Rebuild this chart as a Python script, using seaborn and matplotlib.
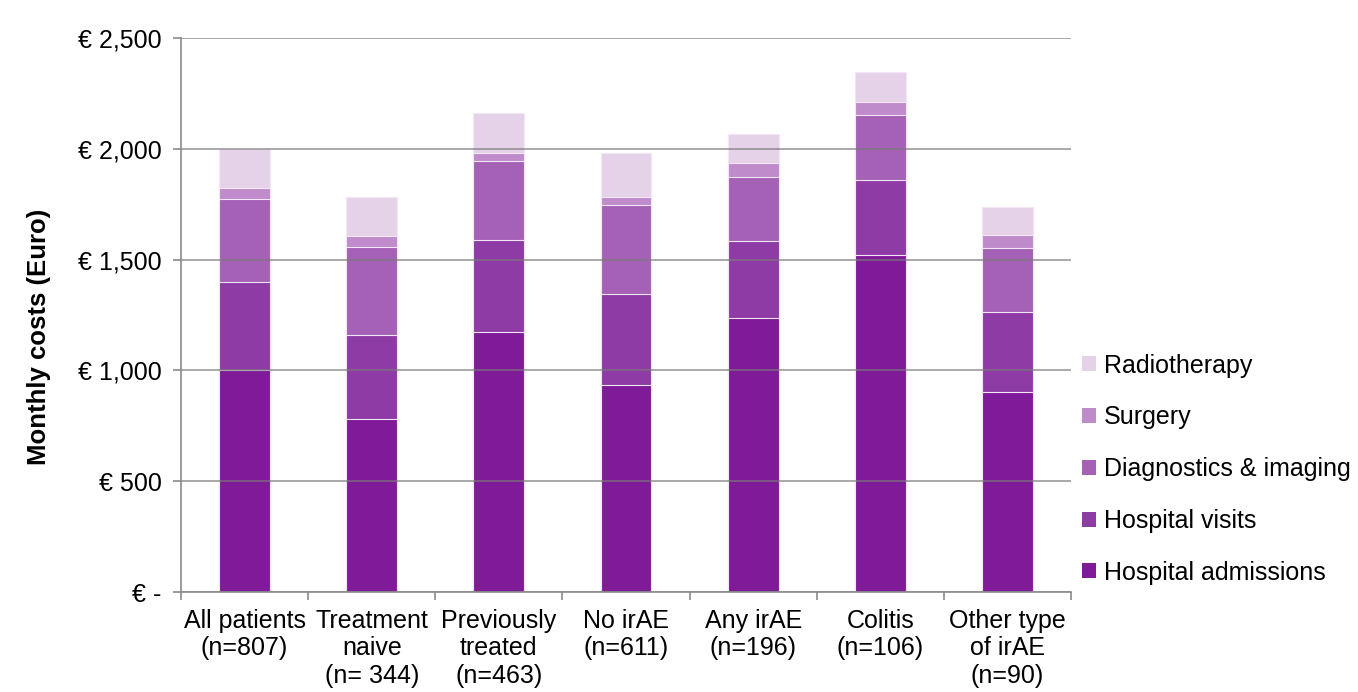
import numpy as np
import pandas as pd
import matplotlib
matplotlib.use("Agg")
import matplotlib.pyplot as plt
from matplotlib.patches import Patch
from matplotlib.ticker import FuncFormatter, FixedLocator
import seaborn as sns

categories = ["All patients\n(n=807)", "Treatment\nnaive\n(n= 344)", "Previously\ntreated\n(n=463)",
              "No irAE\n(n=611)", "Any irAE\n(n=196)", "Colitis\n(n=106)", "Other type\nof irAE\n(n=90)"]
series_names = ["Hospital admissions", "Hospital visits", "Diagnostics & imaging", "Surgery", "Radiotherapy"]
hospital_admissions = [1002, 781, 1173, 934, 1237, 1521, 903]
hospital_visits = [397, 379, 416, 411, 347, 338, 361]
diagnostics_imaging = [375, 397, 356, 402, 289, 294, 288]
surgery = [49, 50, 36, 36, 63, 58, 59]
radiotherapy = [176, 176, 181, 198, 131, 136, 126]
colors = ["#7F1A98", "#8E3BA5", "#A461B5", "#BF8BCB", "#E5D2E9"]

sns.set_style("white")
plt.rcParams["font.family"] = ["Liberation Sans", "DejaVu Sans"]
plt.rcParams["text.color"] = "black"
plt.rcParams["axes.labelcolor"] = "black"

fig = plt.figure(figsize=(13.58, 6.92), dpi=100)
ax = fig.add_axes([181/1358, 1-592/692, 890/1358, 554/692])

layers = [hospital_admissions, hospital_visits, diagnostics_imaging, surgery, radiotherapy]
cum = np.cumsum(np.array(layers, dtype=float), axis=0)
for i in range(len(layers)-1, -1, -1):
    df = pd.DataFrame({"cat": categories, "val": cum[i]})
    sns.barplot(data=df, x="cat", y="val", color=colors[i], width=0.4, ax=ax,
                saturation=1, edgecolor="#F3E6F6", linewidth=0.8, zorder=2)

ax.set_ylim(0, 2500)
ax.set_xlim(-0.5, 6.5)
ax.set_yticks([0, 500, 1000, 1500, 2000, 2500])
ax.yaxis.set_major_formatter(FuncFormatter(lambda v, p: "€ -" if v == 0 else "€ {:,.0f}".format(v)))
ax.grid(axis="y", color="#7a7a7a", linewidth=1.2, alpha=0.75, zorder=3)
ax.set_axisbelow(False)
for s in ["top", "right"]:
    ax.spines[s].set_visible(False)
for s in ["left", "bottom"]:
    ax.spines[s].set_color("#8a8a8a")
    ax.spines[s].set_linewidth(1.2)
    ax.spines[s].set_zorder(4)

ax.tick_params(axis="y", which="major", length=6, width=1.2, color="#8a8a8a", left=True,
               labelsize=18, pad=8, labelcolor="black")
ax.tick_params(axis="x", which="major", length=0, labelsize=18, pad=12, labelcolor="black")
ax.xaxis.set_minor_locator(FixedLocator(np.arange(-0.5, 7, 1.0)))
ax.tick_params(axis="x", which="minor", length=6, width=1.2, color="#8a8a8a", bottom=True)
for lbl in ax.get_xticklabels():
    lbl.set_linespacing(1.2)
    lbl.set_verticalalignment("top")

ax.set_xlabel("")
ax.set_ylabel("Monthly costs (Euro)", fontsize=18.5, fontweight="bold", color="black")
ax.yaxis.set_label_coords((51-181)/890, (592-337)/554)

handles = [Patch(facecolor=colors[i], edgecolor="none", label=series_names[i]) for i in range(4, -1, -1)]
fig.legend(handles=handles, loc="center left", bbox_to_anchor=(0.797, 0.322), frameon=False,
           fontsize=18, handlelength=0.55, handleheight=0.55, handletextpad=0.3,
           labelspacing=1.11, borderpad=0, borderaxespad=0)

fig.savefig("out.png", dpi=100)
